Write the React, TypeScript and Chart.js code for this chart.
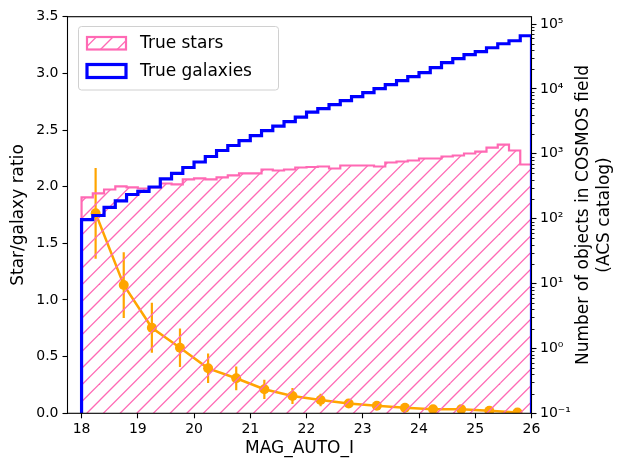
import React, { useEffect, useRef } from 'react';
import { Chart, registerables } from 'chart.js';

Chart.register(...registerables);

// ---------- data ----------
const BIN_EDGES = [
  18.0, 18.2, 18.4, 18.6, 18.8, 19.0, 19.2, 19.4, 19.6, 19.8,
  20.0, 20.2, 20.4, 20.6, 20.8, 21.0, 21.2, 21.4, 21.6, 21.8,
  22.0, 22.2, 22.4, 22.6, 22.8, 23.0, 23.2, 23.4, 23.6, 23.8,
  24.0, 24.2, 24.4, 24.6, 24.8, 25.0, 25.2, 25.4, 25.6, 25.8, 26.0,
];

const STAR_COUNTS = [
  213, 245, 282, 314, 303, 292, 303, 349, 337, 403,
  417, 403, 432, 464, 498, 498, 573, 553, 573, 615,
  627, 638, 594, 661, 661, 661, 638, 735, 762, 789,
  847, 847, 909, 942, 1012, 1085, 1250, 1390, 1125, 685,
];

const GALAXY_COUNTS = [
  97, 112, 149, 188, 236, 263, 308, 410, 498, 615,
  748, 909, 1125, 1343, 1603, 1914, 2282, 2679, 3141, 3683,
  4395, 4977, 5728, 6607, 7621, 8770, 10120, 11650, 13430, 15460,
  17820, 21280, 25410, 29250, 33730, 37500, 43150, 49770, 55340, 66070,
];

const RATIO_MAG = [18.25, 18.75, 19.25, 19.75, 20.25, 20.75, 21.25, 21.75, 22.25, 22.75, 23.25, 23.75, 24.25, 24.75, 25.25, 25.75];
const RATIO = [1.765, 1.132, 0.755, 0.579, 0.397, 0.309, 0.212, 0.153, 0.117, 0.086, 0.066, 0.049, 0.035, 0.035, 0.023, 0.007];
const RATIO_ERR = [0.40, 0.29, 0.22, 0.17, 0.13, 0.105, 0.085, 0.07, 0.055, 0.035, 0.025, 0.015, 0.01, 0.01, 0.008, 0.005];

const X_TICKS = [18, 19, 20, 21, 22, 23, 24, 25, 26];
const LEFT_TICKS = [0, 0.5, 1.0, 1.5, 2.0, 2.5, 3.0, 3.5];
const RIGHT_TICKS = [0.1, 1, 10, 100, 1000, 10000, 100000];
const RIGHT_TICK_LABELS = ['10\u207B\u00B9', '10\u2070', '10\u00B9', '10\u00B2', '10\u00B3', '10\u2074', '10\u2075'];

const X_MIN = 17.75;
const X_MAX = 26;
const LEFT_MIN = 0;
const LEFT_MAX = 3.5;
const RIGHT_MIN = 0.1;
const RIGHT_MAX = 130000;

const X_TITLE = 'MAG_AUTO_I';
const LEFT_TITLE = 'Star/galaxy ratio';
const RIGHT_TITLE = ['Number of objects in COSMOS field', '(ACS catalog)'];
const LEGEND_LABELS = ['True stars', 'True galaxies'];

// ---------- styles ----------
const FONT = "'DejaVu Sans', sans-serif";
const PINK = '#ff69b4';
const BLUE = '#0000ff';
const ORANGE = '#ffa500';

function makeHatch(): CanvasPattern | string {
  const size = 50;
  const c = document.createElement('canvas');
  c.width = size;
  c.height = size;
  const g = c.getContext('2d');
  if (!g) return 'rgba(0,0,0,0)';
  g.strokeStyle = PINK;
  g.lineWidth = 1.3;
  const step = size / 3;
  for (let k = -4; k <= 4; k++) {
    const o = k * step;
    g.beginPath();
    g.moveTo(o - 2, size + 2);
    g.lineTo(o + size + 2, -2);
    g.stroke();
  }
  const p = g.createPattern(c, 'repeat');
  return p || 'rgba(0,0,0,0)';
}

function stepPoints(counts: number[]) {
  const pts: { x: number; y: number }[] = [{ x: BIN_EDGES[0], y: RIGHT_MIN }];
  counts.forEach((c, i) => {
    pts.push({ x: BIN_EDGES[i], y: c });
    pts.push({ x: BIN_EDGES[i + 1], y: c });
  });
  pts.push({ x: BIN_EDGES[BIN_EDGES.length - 1], y: RIGHT_MIN });
  return pts;
}

export default function App() {
  const ref = useRef<HTMLCanvasElement | null>(null);

  useEffect(() => {
    const canvas = ref.current;
    if (!canvas) return;
    const hatch = makeHatch();

    const errorBars = {
      id: 'errorBars',
      beforeDatasetsDraw(chart: any) {
        const { ctx, chartArea, scales } = chart;
        const xs = scales.x;
        const ys = scales.y;
        ctx.save();
        ctx.beginPath();
        ctx.rect(chartArea.left, chartArea.top, chartArea.right - chartArea.left, chartArea.bottom - chartArea.top);
        ctx.clip();
        ctx.strokeStyle = ORANGE;
        ctx.lineWidth = 2.2;
        RATIO_MAG.forEach((m, i) => {
          const px = xs.getPixelForValue(m);
          ctx.beginPath();
          ctx.moveTo(px, ys.getPixelForValue(RATIO[i] - RATIO_ERR[i]));
          ctx.lineTo(px, ys.getPixelForValue(RATIO[i] + RATIO_ERR[i]));
          ctx.stroke();
        });
        ctx.restore();
      },
    };

    const frameAndText = {
      id: 'frameAndText',
      afterDatasetsDraw(chart: any) {
        const { ctx, chartArea } = chart;
        ctx.save();
        ctx.strokeStyle = '#000';
        ctx.lineWidth = 1.1;
        ctx.strokeRect(chartArea.left, chartArea.top, chartArea.right - chartArea.left, chartArea.bottom - chartArea.top);
        ctx.restore();
      },
      afterDraw(chart: any) {
        const { ctx, chartArea, scales } = chart;
        const y2 = scales.y2;
        ctx.save();
        // minor ticks on log axis
        ctx.strokeStyle = '#000';
        ctx.lineWidth = 0.9;
        for (let d = -1; d <= 5; d++) {
          for (let m = 2; m <= 9; m++) {
            const v = m * Math.pow(10, d);
            if (v > RIGHT_MAX) continue;
            const py = Math.round(y2.getPixelForValue(v)) + 0.5;
            ctx.beginPath();
            ctx.moveTo(chartArea.right, py);
            ctx.lineTo(chartArea.right + 3, py);
            ctx.stroke();
          }
        }
        // titles
        ctx.fillStyle = '#000';
        ctx.font = `17px ${FONT}`;
        ctx.textAlign = 'center';
        ctx.textBaseline = 'middle';
        const cx = (chartArea.left + chartArea.right) / 2;
        const cy = (chartArea.top + chartArea.bottom) / 2;
        ctx.fillText(X_TITLE, cx, 449);
        ctx.save();
        ctx.translate(19, cy);
        ctx.rotate(-Math.PI / 2);
        ctx.fillText(LEFT_TITLE, 0, 0);
        ctx.restore();
        const rx = [584, 605];
        RIGHT_TITLE.forEach((t, i) => {
          ctx.save();
          ctx.translate(rx[i], cy);
          ctx.rotate(-Math.PI / 2);
          ctx.fillText(t, 0, 0);
          ctx.restore();
        });
        // legend
        const bx = 78.5, by = 26.5, bw = 200, bh = 63.5, r = 3;
        ctx.beginPath();
        ctx.moveTo(bx + r, by);
        ctx.lineTo(bx + bw - r, by);
        ctx.quadraticCurveTo(bx + bw, by, bx + bw, by + r);
        ctx.lineTo(bx + bw, by + bh - r);
        ctx.quadraticCurveTo(bx + bw, by + bh, bx + bw - r, by + bh);
        ctx.lineTo(bx + r, by + bh);
        ctx.quadraticCurveTo(bx, by + bh, bx, by + bh - r);
        ctx.lineTo(bx, by + r);
        ctx.quadraticCurveTo(bx, by, bx + r, by);
        ctx.closePath();
        ctx.fillStyle = 'rgba(255,255,255,0.8)';
        ctx.fill();
        ctx.strokeStyle = '#d0d0d0';
        ctx.lineWidth = 1;
        ctx.stroke();
        // patches
        ctx.fillStyle = hatch as any;
        ctx.fillRect(87, 37, 39, 12.5);
        ctx.strokeStyle = PINK;
        ctx.lineWidth = 2.2;
        ctx.strokeRect(87, 37, 39, 12.5);
        ctx.strokeStyle = BLUE;
        ctx.lineWidth = 3.2;
        ctx.strokeRect(87, 64.5, 39, 13);
        ctx.fillStyle = '#000';
        ctx.textAlign = 'left';
        ctx.font = `17px ${FONT}`;
        ctx.fillText(LEGEND_LABELS[0], 140, 43.5);
        ctx.fillText(LEGEND_LABELS[1], 140, 71.5);
        ctx.restore();
      },
    };

    const tickFont = { family: FONT, size: 14 };
    const grid = { drawOnChartArea: false, drawTicks: true, tickLength: 5, color: '#000', tickColor: '#000', tickWidth: 1.1 };

    const chart = new Chart(canvas, {
      type: 'line',
      data: {
        datasets: [
          {
            label: 'ratio',
            data: RATIO_MAG.map((m, i) => ({ x: m, y: RATIO[i] })),
            yAxisID: 'y',
            borderColor: ORANGE,
            backgroundColor: ORANGE,
            borderWidth: 2.5,
            pointRadius: 5,
            pointBorderWidth: 0,
            pointBackgroundColor: ORANGE,
            fill: false,
            tension: 0,
            order: 3,
          },
          {
            label: LEGEND_LABELS[0],
            data: stepPoints(STAR_COUNTS),
            yAxisID: 'y2',
            borderColor: PINK,
            borderWidth: 2.2,
            backgroundColor: hatch as any,
            fill: 'start',
            pointRadius: 0,
            tension: 0,
            order: 2,
          },
          {
            label: LEGEND_LABELS[1],
            data: stepPoints(GALAXY_COUNTS),
            yAxisID: 'y2',
            borderColor: BLUE,
            borderWidth: 3.2,
            fill: false,
            pointRadius: 0,
            tension: 0,
            order: 1,
          },
        ],
      },
      options: {
        animation: false,
        responsive: false,
        devicePixelRatio: 1,
        layout: { padding: { top: 16.7, left: 0, right: 0, bottom: 0 } },
        plugins: { legend: { display: false }, tooltip: { enabled: false } },
        events: [],
        scales: {
          x: {
            type: 'linear',
            position: 'bottom',
            min: X_MIN,
            max: X_MAX,
            afterBuildTicks: (s: any) => { s.ticks = X_TICKS.map((v) => ({ value: v })); },
            afterFit: (s: any) => { s.height = 46.7; },
            grid,
            border: { display: false },
            ticks: { font: tickFont, color: '#000', padding: 3, maxRotation: 0, autoSkip: false, callback: (v: any) => String(v) },
          },
          y: {
            type: 'linear',
            position: 'left',
            min: LEFT_MIN,
            max: LEFT_MAX,
            afterBuildTicks: (s: any) => { s.ticks = LEFT_TICKS.map((v) => ({ value: v })); },
            afterFit: (s: any) => { s.width = 67.5; },
            grid,
            border: { display: false },
            ticks: { font: tickFont, color: '#000', padding: 4, autoSkip: false, callback: (v: any) => Number(v).toFixed(1) },
          },
          y2: {
            type: 'logarithmic',
            position: 'right',
            min: RIGHT_MIN,
            max: RIGHT_MAX,
            afterBuildTicks: (s: any) => { s.ticks = RIGHT_TICKS.map((v) => ({ value: v })); },
            afterFit: (s: any) => { s.width = 90.5; },
            grid,
            border: { display: false },
            ticks: {
              font: tickFont,
              color: '#000',
              padding: 3.5,
              autoSkip: false,
              callback: (v: any) => {
                const idx = RIGHT_TICKS.findIndex((t) => Math.abs(Math.log10(t) - Math.log10(Number(v))) < 1e-6);
                return idx >= 0 ? RIGHT_TICK_LABELS[idx] : '';
              },
            },
          },
        },
      },
      plugins: [errorBars, frameAndText],
    } as any);

    return () => chart.destroy();
  }, []);

  return (
    <div style={{ position: 'fixed', left: 0, top: 0, width: 622, height: 460, background: '#fff' }}>
      <canvas ref={ref} width={622} height={460} style={{ display: 'block' }} />
    </div>
  );
}
